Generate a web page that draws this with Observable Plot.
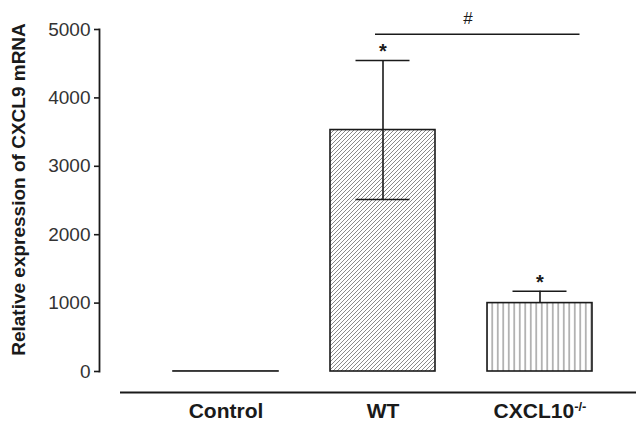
<!DOCTYPE html>
<html>
<head>
<meta charset="utf-8">
<script src="https://cdn.jsdelivr.net/npm/d3@7"></script>
<script src="https://cdn.jsdelivr.net/npm/@observablehq/plot@0.6"></script>
<style>
  html, body { margin: 0; padding: 0; background: #fff; }
  svg { font-family: "Liberation Sans", Arial, sans-serif; }
</style>
</head>
<body>
<div id="chart"></div>
<script>
const groups = ["Control", "WT", "CXCL10-/-"];
const means = [1, 3530, 1000];
const errLow = [1, 2515, 1000];
const errHigh = [1, 4547, 1174];
const showErr = [false, true, true];
const stars = ["", "*", "*"];
const fills = ["none", "url(#hatchDiag)", "url(#hatchVert)"];
const yTicks = [0, 1000, 2000, 3000, 4000, 5000];
const yLabel = "Relative expression of CXCL9 mRNA";
const sigY = 4930;
const sigLabel = "#";

const data = groups.map((g, i) => ({group: g, mean: means[i], lo: errLow[i], hi: errHigh[i], err: showErr[i], star: stars[i], fill: fills[i]}));
const errData = data.filter(d => d.err);

const chart = Plot.plot({
  width: 636,
  height: 423,
  marginLeft: 99,
  marginRight: 0,
  marginTop: 29,
  marginBottom: 52,
  style: {fontFamily: '"Liberation Sans", Arial, sans-serif', background: "#fff"},
  x: {type: "band", domain: groups, range: [172.5, 592.5], paddingInner: 1/3, paddingOuter: 0},
  y: {domain: [0, 5000]},
  marks: [
    Plot.barY(data, {x: "group", y: "mean", fill: d => d.fill, stroke: "#1a1a1a", strokeWidth: 1.6}),
    Plot.ruleX(errData, {x: "group", y1: "lo", y2: "hi", stroke: "#1a1a1a", strokeWidth: 1.6}),
    Plot.tickY(errData, {x: "group", y: "hi", stroke: "#1a1a1a", strokeWidth: 1.6, insetLeft: 25.5, insetRight: 25.5}),
    Plot.tickY(errData.filter(d => d.lo < d.mean), {x: "group", y: "lo", stroke: "#1a1a1a", strokeWidth: 1.6, insetLeft: 25.5, insetRight: 25.5}),
    Plot.text(errData, {x: "group", y: "hi", text: "star", dy: -9, fontSize: 20, fontWeight: "bold", fill: "#1a1a1a"}),
    Plot.ruleY([sigY], {x1: () => "WT", x2: () => "CXCL10-/-", insetLeft: 45, insetRight: 12.5, stroke: "#1a1a1a", strokeWidth: 1.6}),
    Plot.text([sigLabel], {x: () => "WT", y: () => sigY, text: d => d, dx: 85, dy: -16, fontSize: 17, fill: "#1a1a1a"}),
    Plot.axisY({ticks: yTicks, tickFormat: d => String(d), tickSize: 5, tickPadding: 4, fontSize: 19, fill: "#333", stroke: "#1a1a1a", strokeWidth: 1.6, label: null}),
    Plot.frame({anchor: "left", stroke: "#1a1a1a", strokeWidth: 1.8}),
    Plot.ruleY([0], {dy: 21, insetLeft: 21, stroke: "#1a1a1a", strokeWidth: 1.8}),
    Plot.axisX({tickSize: 0, tickPadding: 32, fontSize: 21, fontWeight: "bold", fill: "#1a1a1a", label: null}),
    Plot.text([yLabel], {frameAnchor: "left", textAnchor: "middle", rotate: -90, dx: -81, dy: -11, text: d => d, fontSize: 19, fontWeight: "bold", fill: "#1a1a1a"})
  ]
});

const svg = d3.select(chart);
const defs = svg.insert("defs", ":first-child");
const pd = defs.append("pattern").attr("id", "hatchDiag").attr("patternUnits", "userSpaceOnUse").attr("width", 4).attr("height", 4);
pd.append("rect").attr("width", 4).attr("height", 4).attr("fill", "#fff");
pd.append("path").attr("d", "M-1,1 l2,-2 M0,4 l4,-4 M3,5 l2,-2").attr("stroke", "#8a8a8a").attr("stroke-width", 1);
const pv = defs.append("pattern").attr("id", "hatchVert").attr("patternUnits", "userSpaceOnUse").attr("width", 5.5).attr("height", 10);
pv.append("rect").attr("width", 5.5).attr("height", 10).attr("fill", "#fff");
pv.append("line").attr("x1", 2.75).attr("x2", 2.75).attr("y1", 0).attr("y2", 10).attr("stroke", "#9a9a9a").attr("stroke-width", 1.4);

svg.selectAll("text").each(function() {
  const t = d3.select(this);
  if (t.text() === "CXCL10-/-") {
    t.text("");
    t.append("tspan").text("CXCL10");
    t.append("tspan").attr("dy", "-0.55em").attr("font-size", 13).text("-/-");
  }
});

document.getElementById("chart").appendChild(chart);
</script>
</body>
</html>
